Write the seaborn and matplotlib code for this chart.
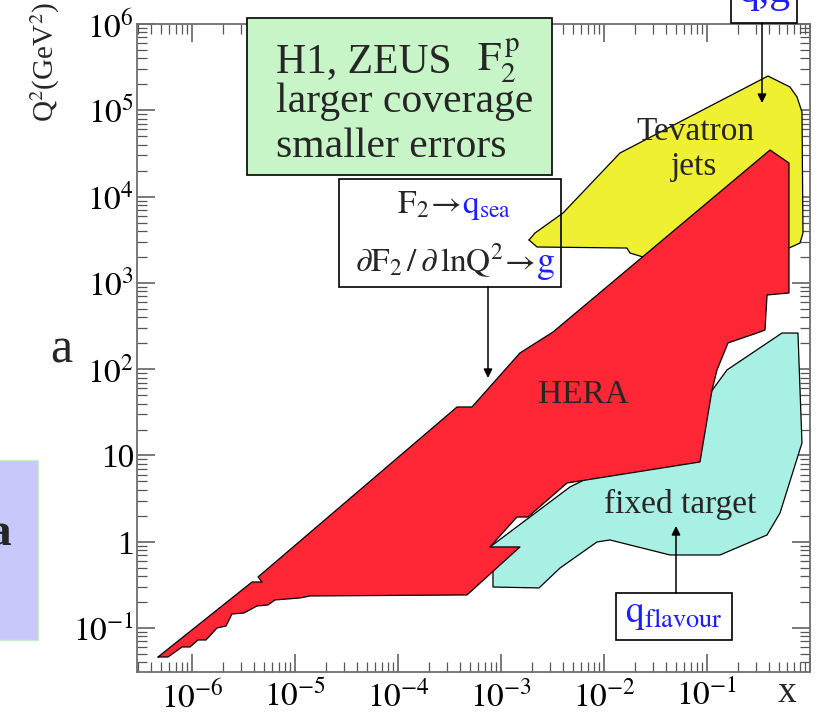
import numpy as np
import matplotlib
matplotlib.use("Agg")
import matplotlib.pyplot as plt
import seaborn as sns
from matplotlib.patches import Rectangle, FancyArrowPatch
from matplotlib.ticker import FixedLocator, LogLocator, FuncFormatter, NullFormatter

# Kinematic regions in the (x, Q^2) plane, vertices given as log10 values
hera_log10_x = [-6.330, -5.417, -5.320, -5.359, -3.427, -3.282, -2.816, -2.495, -0.388, -0.204,
                -0.204, -0.417, -0.437, -0.515, -0.796, -0.903, -0.951, -1.068, -2.359, -2.738,
                -2.845, -3.107, -2.816, -3.330, -4.854, -4.951, -5.194, -5.262, -5.369, -5.495,
                -5.612, -5.670, -5.757, -5.864, -5.942, -6.019, -6.097, -6.233]
hera_log10_q2 = [-1.335, -0.466, -0.466, -0.408, 1.562, 1.562, 2.188, 2.431, 4.540, 4.389,
                 2.883, 2.860, 2.454, 2.419, 2.304, 1.991, 1.759, 0.925, 0.681, 0.287,
                 0.287, -0.060, -0.060, -0.616, -0.628, -0.651, -0.674, -0.732, -0.744, -0.825,
                 -0.837, -0.976, -0.999, -1.138, -1.138, -1.219, -1.219, -1.335]

tevatron_log10_x = [-2.728, -2.650, -1.777, -1.748, -1.621, -1.456, -0.340, -0.204, -0.097,
                    -0.068, -0.078, -0.126, -0.194, -0.408, -1.845, -2.398, -2.670]
tevatron_log10_q2 = [3.497, 3.416, 3.404, 3.346, 3.300, 3.207, 3.207, 3.404, 3.462,
                     3.578, 4.980, 5.154, 5.270, 5.397, 4.505, 3.810, 3.578]

fixed_log10_x = [-3.107, -2.330, -2.039, -1.165, -1.019, -0.806, -0.272, -0.117, -0.078, -0.291,
                 -0.417, -0.874, -1.359, -1.942, -2.068, -2.427, -2.631, -3.078, -3.078]
fixed_log10_q2 = [-0.060, 0.635, 0.809, 1.006, 1.643, 1.991, 2.419, 2.419, 1.145, 0.334,
                  0.079, -0.153, -0.153, 0.021, -0.002, -0.304, -0.535, -0.524, -0.269]

region_names = ["fixed target", "Tevatron jets", "HERA"]
region_colors = ["#a8f0e4", "#f0f032", "#ff2636"]

x_major = [1e-6, 1e-5, 1e-4, 1e-3, 1e-2, 1e-1, 1e0]
q2_major = [1e-1, 1e0, 1e1, 1e2, 1e3, 1e4, 1e5, 1e6]

sns.set_theme(style="ticks")
plt.rcParams["font.family"] = ["Liberation Serif", "DejaVu Serif"]
plt.rcParams["mathtext.fontset"] = "stix"

W, H = 821, 716
fig = plt.figure(figsize=(W / 100, H / 100), dpi=100)
fig.patch.set_facecolor("white")


def fp(x, y):
    """Figure-fraction position from pixel position measured from the top-left."""
    return (x / W, 1 - y / H)


ax = fig.add_axes([137 / W, 1 - 672 / H, 673 / W, 648 / H])
ax.set_facecolor("white")
ax.set_xscale("log")
ax.set_yscale("log")
ax.set_xlim(10 ** -6.534, 1.0)
ax.set_ylim(10 ** -1.509, 1e6)

regions = [
    (fixed_log10_x, fixed_log10_q2),
    (tevatron_log10_x, tevatron_log10_q2),
    (hera_log10_x, hera_log10_q2),
]
for i, ((lx, lq), color) in enumerate(zip(regions, region_colors)):
    xs = 10 ** np.asarray(lx)
    qs = 10 ** np.asarray(lq)
    z = 2 + i
    ax.fill(xs, qs, facecolor=color, edgecolor="none", zorder=z)
    xc = np.append(xs, xs[0])
    qc = np.append(qs, qs[0])
    sns.lineplot(x=xc, y=qc, sort=False, estimator=None, color="black",
                 linewidth=0.9, ax=ax, zorder=z + 0.5)

# axes frame and ticks
for s in ax.spines.values():
    s.set_color("#6e6e6e")
    s.set_linewidth(1.3)
ax.xaxis.set_major_locator(FixedLocator(x_major))
ax.yaxis.set_major_locator(FixedLocator(q2_major))
ax.xaxis.set_minor_locator(LogLocator(base=10, subs=np.arange(2, 10), numticks=30))
ax.yaxis.set_minor_locator(LogLocator(base=10, subs=np.arange(2, 10), numticks=30))
ax.xaxis.set_minor_formatter(NullFormatter())
ax.yaxis.set_minor_formatter(NullFormatter())


def q2_label(v, pos):
    e = int(round(np.log10(v)))
    if e == 0:
        return "1"
    if e == 1:
        return "10"
    return r"$10^{%d}$" % e


def x_label(v, pos):
    e = int(round(np.log10(v)))
    if e == 0:
        return ""
    return r"$10^{%d}$" % e


ax.xaxis.set_major_formatter(FuncFormatter(x_label))
ax.yaxis.set_major_formatter(FuncFormatter(q2_label))
ax.tick_params(which="both", direction="in", top=True, right=True, color="#555555",
               labelsize=24, labelcolor="black")
ax.tick_params(which="major", length=13, width=1.1)
ax.tick_params(which="minor", length=7, width=0.9)
ax.tick_params(axis="y", which="major", pad=2)
ax.tick_params(axis="x", which="major", pad=6)
ax.set_xlabel("")
ax.set_ylabel("")

fig.text(*fp(45, 62), r"Q$^2$(GeV$^2$)", rotation=90, ha="center", va="center",
         fontsize=21)
fig.text(*fp(787, 702), "x", ha="center", va="baseline", fontsize=27)

# region names
fig.text(*fp(695, 140), "Tevatron", ha="center", va="baseline", fontsize=24, zorder=6)
fig.text(*fp(694, 175), "jets", ha="center", va="baseline", fontsize=24, zorder=6)
fig.text(*fp(583, 403), "HERA", ha="center", va="baseline", fontsize=24, zorder=6)
fig.text(*fp(680, 513), "fixed target", ha="center", va="baseline", fontsize=24, zorder=6)

blue = "#1e1eff"


def box(x0, y0, x1, y1, fc, ec="black", lw=1.2, z=5):
    fig.add_artist(Rectangle(fp(x0, y1), (x1 - x0) / W, (y1 - y0) / H,
                             transform=fig.transFigure, facecolor=fc, edgecolor=ec,
                             linewidth=lw, zorder=z, clip_on=False))


def arrow(x0, y0, x1, y1):
    fig.add_artist(FancyArrowPatch(fp(x0, y0), fp(x1, y1), transform=fig.transFigure,
                                   arrowstyle="-|>", mutation_scale=13, linewidth=1.1,
                                   color="black", shrinkA=0, shrinkB=0, zorder=7))


# H1/ZEUS box
box(247, 18, 552, 175, "#c8f5c8")
fig.text(*fp(276, 72), "H1, ZEUS", ha="left", va="baseline", fontsize=30, zorder=6)
fig.text(*fp(477, 72), r"$\mathrm{F}_2^{\,\mathrm{p}}$", ha="left", va="baseline",
         fontsize=30, zorder=6)
fig.text(*fp(276, 112), "larger coverage", ha="left", va="baseline", fontsize=30, zorder=6)
fig.text(*fp(276, 157), "smaller errors", ha="left", va="baseline", fontsize=30, zorder=6)

# structure-function box
box(339, 179, 561, 287, "none")
fig.text(*fp(461, 213), r"$\mathrm{F}_2\!\rightarrow$", ha="right", va="baseline",
         fontsize=24, zorder=6)
fig.text(*fp(462, 213), r"$\mathrm{q}_{\mathrm{sea}}$", ha="left", va="baseline",
         fontsize=24, color=blue, zorder=6)
fig.text(*fp(535, 272), r"$\partial\mathrm{F}_2\,/\,\partial\,\mathrm{lnQ}^2\!\rightarrow$",
         ha="right", va="baseline", fontsize=24, zorder=6)
fig.text(*fp(536, 272), r"$\mathrm{g}$", ha="left", va="baseline", fontsize=26,
         color=blue, zorder=6)
arrow(488, 287, 488, 378)

# q,g box cut by the top edge
box(731, -40, 797, 23, "white")
fig.text(*fp(764, 2), "q,g", ha="center", va="baseline", fontsize=30, color=blue, zorder=6)
arrow(762, 23, 762, 103)

# q flavour box
box(616, 593, 732, 640, "white")
fig.text(*fp(625, 622), r"$\mathrm{q}_{\mathrm{flavour}}$", ha="left", va="baseline",
         fontsize=27, color=blue, zorder=6)
arrow(676, 593, 676, 526)

# neighbouring slide content on the left
fig.text(*fp(61, 362), "a", ha="center", va="baseline", fontsize=36)
box(-10, 460, 38, 640, "#c8c8fa", ec="#c8f0c8", lw=1.0, z=1)
fig.text(*fp(11, 545), "a", ha="right", va="baseline", fontsize=34, fontweight="bold",
         zorder=2)

fig.savefig("out.png", dpi=100, facecolor="white")
